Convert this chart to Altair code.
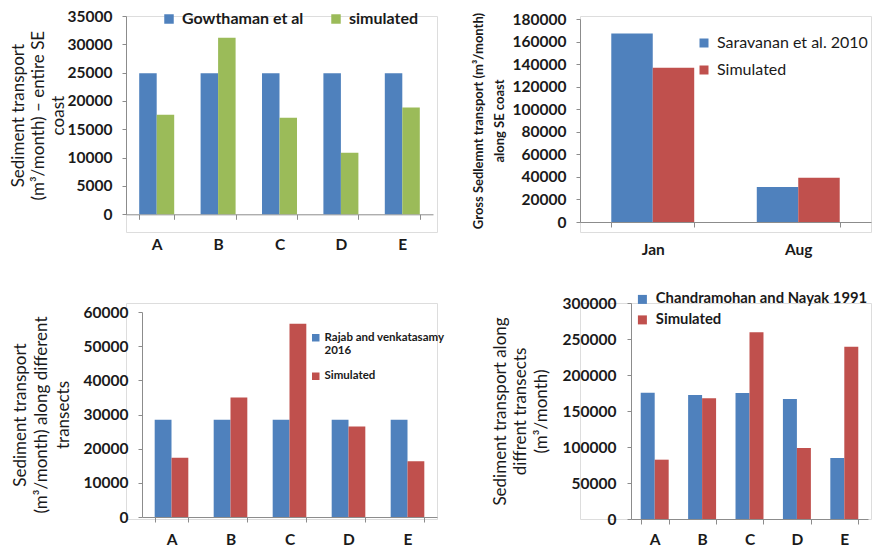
import altair as alt
import pandas as pd

FONT = "Lato"
AXIS_GRAY = "#8c8c8c"
TEXT = "#1a1a1a"
BLUE = "#4F81BD"
RED = "#C0504D"
GREEN = "#9BBB59"

# ---------------- Panel 1 (top-left) ----------------
p1_cats = ["A", "B", "C", "D", "E"]
p1_series = ["Gowthaman et al", "simulated"]
p1_gowthaman = [24900, 24900, 24900, 24900, 24900]
p1_simulated = [17550, 31150, 17050, 10850, 18850]
p1_ticks = [0, 5000, 10000, 15000, 20000, 25000, 30000, 35000]
p1_title = ["Sediment transport", "(m³/month) – entire SE", "coast"]

# ---------------- Panel 2 (top-right) ----------------
p2_cats = ["Jan", "Aug"]
p2_series = ["Saravanan et al. 2010", "Simulated"]
p2_saravanan = [167200, 31100]
p2_simulated = [136800, 39300]
p2_ticks = [0, 20000, 40000, 60000, 80000, 100000, 120000, 140000, 160000, 180000]
p2_title = ["Gross Sedlemnt transport (m³/month)", "along SE coast"]

# ---------------- Panel 3 (bottom-left) ----------------
p3_cats = ["A", "B", "C", "D", "E"]
p3_series = ["Rajab and venkatasamy 2016", "Simulated"]
p3_rajab = [28500, 28500, 28500, 28500, 28500]
p3_simulated = [17350, 35000, 56550, 26500, 16300]
p3_ticks = [0, 10000, 20000, 30000, 40000, 50000, 60000]
p3_title = ["Sediment transport", "(m³/month) along different", "transects"]

# ---------------- Panel 4 (bottom-right) ----------------
p4_cats = ["A", "B", "C", "D", "E"]
p4_series = ["Chandramohan and Nayak 1991", "Simulated"]
p4_chandra = [175400, 172200, 175000, 166700, 84700]
p4_simulated = [82400, 167600, 259300, 98600, 239400]
p4_ticks = [0, 50000, 100000, 150000, 200000, 250000, 300000]
p4_title = ["Sediment transport along", "diffrent transects", "(m³/month)"]

CELL_H = 216


def long_df(cats, series, values_list):
    rows = []
    for s, vals in zip(series, values_list):
        for c, v in zip(cats, vals):
            rows.append({"cat": c, "series": s, "value": v})
    return pd.DataFrame(rows)


def panel(df, cats, series, colors, ymax, ticks, cell_w, xr, yr, pad_inner,
          xlab_pad, title_lines, title_x, title_size, title_weight,
          title_lh, legend, ylab_pad=10):
    x_off = yr[0] - CELL_H
    y_off = -xr[0]
    return alt.Chart(df).mark_bar().encode(
        x=alt.X("cat:N", sort=cats,
                scale=alt.Scale(domain=cats, range=xr,
                                paddingInner=pad_inner,
                                paddingOuter=pad_inner / 2),
                axis=alt.Axis(title=None, labelAngle=0, labelFont=FONT,
                              labelFontSize=15.5, labelFontWeight="bold",
                              labelColor=TEXT, labelBaseline="middle",
                              labelPadding=xlab_pad, tickBand="extent",
                              tickSize=5, tickColor=AXIS_GRAY,
                              domainColor=AXIS_GRAY, grid=False,
                              offset=x_off)),
        xOffset=alt.XOffset("series:N", scale=alt.Scale(domain=series)),
        y=alt.Y("value:Q",
                scale=alt.Scale(domain=[0, ymax], range=yr, nice=False,
                                zero=True),
                axis=alt.Axis(values=ticks, format="d", grid=False,
                              labelFont=FONT, labelFontSize=15.5,
                              labelFontWeight="bold", labelColor=TEXT,
                              labelPadding=ylab_pad, tickSize=4,
                              tickColor=AXIS_GRAY, domainColor=AXIS_GRAY,
                              offset=y_off,
                              title=title_lines, titleFont=FONT,
                              titleFontSize=title_size,
                              titleFontWeight=title_weight,
                              titleColor=TEXT, titleLineHeight=title_lh,
                              titleAngle=270, titleAlign="center",
                              titleBaseline="middle", titleX=title_x,
                              titleY=(yr[0] + yr[1]) / 2)),
        color=alt.Color("series:N",
                        scale=alt.Scale(domain=series, range=colors),
                        legend=legend),
    ).properties(width=cell_w, height=CELL_H)


def legend(x, y, direction, size, font_size, weight, offset,
           row_pad=5, col_pad=10, label_expr=None):
    kw = dict(orient="none", legendX=x, legendY=y, direction=direction,
              title=None, symbolType="square", symbolSize=size,
              symbolStrokeWidth=0, symbolOpacity=1, labelFont=FONT,
              labelFontSize=font_size, labelFontWeight=weight,
              labelColor=TEXT, labelOffset=offset, labelLimit=500,
              rowPadding=row_pad, columnPadding=col_pad, padding=0,
              labelBaseline="middle")
    if label_expr:
        kw["labelExpr"] = label_expr
    return alt.Legend(**kw)


df1 = long_df(p1_cats, p1_series, [p1_gowthaman, p1_simulated])
df2 = long_df(p2_cats, p2_series, [p2_saravanan, p2_simulated])
df3 = long_df(p3_cats, p3_series, [p3_rajab, p3_simulated])
df4 = long_df(p4_cats, p4_series, [p4_chandra, p4_simulated])

c1 = panel(df1, p1_cats, p1_series, [BLUE, GREEN], 35000, p1_ticks, 311,
           [0, 307], [198.3, 0], 0.43, 25, p1_title, -108, 17,
           "normal", 20,
           legend(35, -5, "horizontal", 90, 16, "bold", 5, col_pad=24))
c2 = panel(df2, p2_cats, p2_series, [BLUE, RED], 180000, p2_ticks, 291,
           [0, 291], [206, 3], 0.43, 22, p2_title, -102, 13, "bold", 21,
           legend(116, 19, "vertical", 81, 16, "normal", 5, row_pad=11))
c3 = panel(df3, p3_cats, p3_series, [BLUE, RED], 60000, p3_ticks, 311,
           [16, 311], [214, 9], 0.43, 17, p3_title, -122, 17, "normal",
           21.5,
           legend(184, 29, "vertical", 56, 11.5, "bold", 3, row_pad=12.5,
                  label_expr="datum.label == 'Rajab and venkatasamy 2016' ? ['Rajab and venkatasamy', '2016'] : datum.label"))
c4 = panel(df4, p4_cats, p4_series, [BLUE, RED], 300000, p4_ticks, 291,
           [51, 288], [216, 0], 0.41, 15, p4_title, -131, 17, "normal",
           20.5,
           legend(55, -11, "vertical", 81, 14.8, "bold", 6,
                  row_pad=4.5),
           ylab_pad=11)

chart = alt.concat(c1, c2, c3, c4, columns=2,
                   spacing={"row": 71, "column": 143},
                   bounds="flush").resolve_scale(
    x="independent", y="independent", color="independent",
    xOffset="independent"
).resolve_legend(color="independent").resolve_axis(
    x="independent", y="independent"
).properties(
    padding=0
).configure_view(strokeWidth=0).configure(background="white")

chart.save("out.html", embed_options={"renderer": "svg", "actions": False})
